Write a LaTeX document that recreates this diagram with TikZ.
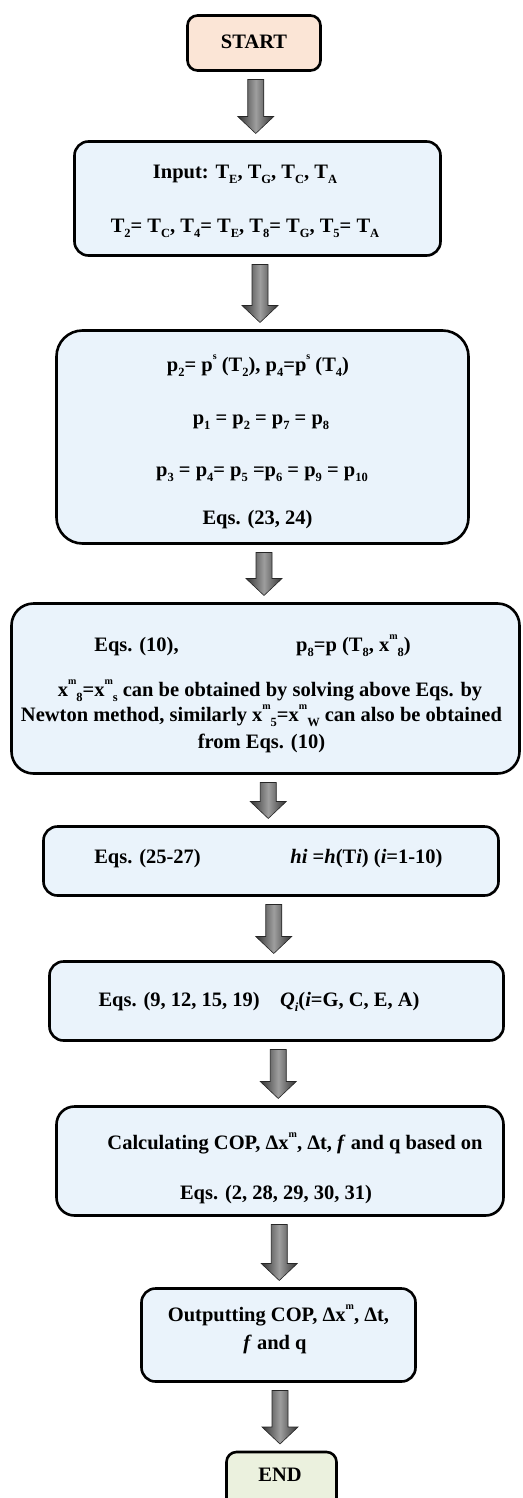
\documentclass[tikz,border=0pt]{standalone}
\usepackage{fontspec}
\setmainfont{Liberation Serif}
\usetikzlibrary{calc,shadows}

\definecolor{boxblue}{RGB}{234,243,251}
\definecolor{startfill}{RGB}{251,229,214}
\definecolor{endfill}{RGB}{235,241,222}

% small raised / lowered indices in the text font
\newcommand\dn[1]{\raisebox{-0.22em}{\fontsize{12.5}{13}\selectfont #1}}
\newcommand\up[1]{\raisebox{0.62em}{\fontsize{10}{11}\selectfont #1}}

\tikzset{
  stepbox/.style={draw=black, line width=2.6pt, rounded corners=#1, fill=boxblue,
    inner sep=0pt, outer sep=0pt,
    drop shadow={opacity=0.18, shadow xshift=1.2pt, shadow yshift=-1.2pt}},
  stepbox/.default=14pt,
  txt/.style={font=\fontsize{20.5}{24}\selectfont\bfseries, inner sep=0pt,
    text height=13.6pt, text depth=0pt, anchor=center},
  arrowbody/.style={left color=black!80, right color=black!80, middle color=black!38,
    draw=black!85, line width=0.6pt},
}

% block arrow from the bottom of one box to the top of the next
\newcommand\flowarrow[2]{%
  \path let \p1=(#1.south), \p2=(#2.north), \p3=($(#1.center)!0.5!(#2.center)$) in
    [arrowbody]
    (\x3-8pt,\y1-9pt) -- (\x3+8pt,\y1-9pt) -- (\x3+8pt,\y2+25pt) -- (\x3+18pt,\y2+25pt)
    -- (\x3,\y2+8pt) -- (\x3-18pt,\y2+25pt) -- (\x3-8pt,\y2+25pt) -- cycle;}

\begin{document}
\begin{tikzpicture}[x=1pt,y=-1pt]
\clip (0,0) rectangle (522,1498);
\useasboundingbox (0,0) rectangle (522,1498);

% boxes
\node[stepbox=10pt, fill=startfill, minimum width=133pt, minimum height=55pt] (start) at (254,43) {};
\node[stepbox, minimum width=366pt, minimum height=114pt] (input) at (257.5,198.5) {};
\node[stepbox=26pt, minimum width=412pt, minimum height=213pt] (press) at (262.5,437) {};
\node[stepbox=22pt, minimum width=508pt, minimum height=170pt] (conc) at (265.5,688.5) {};
\node[stepbox, minimum width=455pt, minimum height=69pt] (enth) at (271,861) {};
\node[stepbox, minimum width=454pt, minimum height=79pt] (heat) at (276.5,1001) {};
\node[stepbox=18pt, minimum width=447pt, minimum height=109pt] (calc) at (280,1161) {};
\node[stepbox, minimum width=274pt, minimum height=93pt] (output) at (278.5,1335) {};
\node[stepbox=10pt, fill=endfill, minimum width=110pt, minimum height=56pt] (end) at (281.5,1480) {};

% texts
\node[txt] (tstart) at (254,42) {START};

\node[txt] (tin1) at (245,172) {Input: T\dn{E}, T\dn{G}, T\dn{C}, T\dn{A}};
\node[txt] (tin2) at (245,226) {T\dn{2}= T\dn{C}, T\dn{4}= T\dn{E}, T\dn{8}= T\dn{G}, T\dn{5}= T\dn{A}};

\node[txt] (tp1) at (258,365) {p\dn{2}= p\up{s} (T\dn{2}), p\dn{4}=p\up{s} (T\dn{4})};
\node[txt] (tp2) at (261,418) {p\dn{1} = p\dn{2} = p\dn{7} = p\dn{8}};
\node[txt] (tp3) at (262,470) {p\dn{3} = p\dn{4}= p\dn{5} =p\dn{6} = p\dn{9} = p\dn{10}};
\node[txt] (tp4) at (257.5,518) {Eqs. (23, 24)};

\node[txt] (tc1a) at (136.5,645) {Eqs. (10),};
\node[txt] (tc1b) at (353.5,645) {p\dn{8}=p (T\dn{8}, x\up{m}\dn{8})};
\node[txt] (tc2) at (270,690) {x\up{m}\dn{8}=x\up{m}\dn{s} can be obtained by solving above Eqs. by};
\node[txt] (tc3) at (261.5,715) {Newton method, similarly x\up{m}\dn{5}=x\up{m}\dn{W} can also be obtained};
\node[txt] (tc4) at (261.5,742) {from Eqs. (10)};

\node[txt] (th1) at (147.5,857) {Eqs. (25-27)};
\node[txt] (th2) at (366.5,857) {\textit{hi} =\textit{h}(T\textit{i}) (\textit{i}=1-10)};

\node[txt] (tq) at (259,1000) {Eqs. (9, 12, 15, 19)\quad \textit{Q}\dn{\textit{i}}(\textit{i}=G, C, E, A)};

\node[txt] (tk1) at (295,1143) {Calculating COP, Δx\up{m}, Δt, \textit{f} and q based on};
\node[txt] (tk2) at (276,1193) {Eqs. (2, 28, 29, 30, 31)};

\node[txt] (to1) at (278.5,1315) {Outputting COP, Δx\up{m}, Δt,};
\node[txt] (to2) at (275,1343) {\textit{f} and q};

\node[txt] (tend) at (280,1475) {END};

% connectors
\flowarrow{start}{input}
\flowarrow{input}{press}
\flowarrow{press}{conc}
\flowarrow{conc}{enth}
\flowarrow{enth}{heat}
\flowarrow{heat}{calc}
\flowarrow{calc}{output}
\flowarrow{output}{end}
\end{tikzpicture}
\end{document}
